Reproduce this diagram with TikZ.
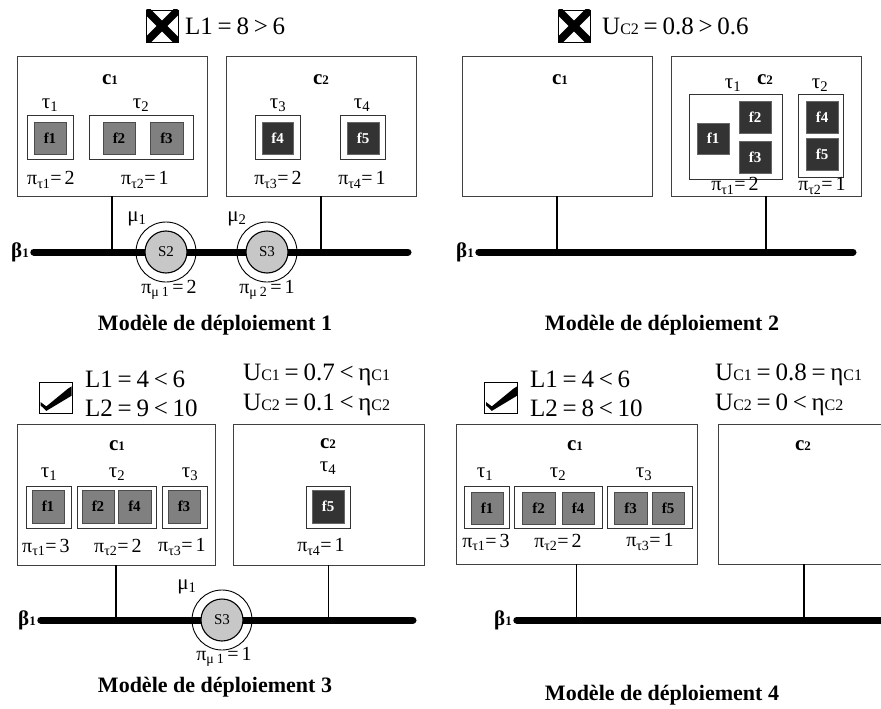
\documentclass[tikz,border=0pt]{standalone}
\usepackage{fontspec}
\setmainfont{Liberation Serif}
\newcommand\bx[7]{\node[#2,anchor=north west,minimum width={(#5)-(#3)},minimum height={(#6)-(#4)}] (#1) at (#3,#4) {#7};}
\newcommand\cn[1]{c{\fontsize{13}{14}\selectfont #1}}
\newcommand\bn{β{\fontsize{13}{14}\selectfont 1}}
\newcommand\tl[1]{τ\textsubscript{#1}}
\newcommand\pt[1]{π\textsubscript{τ#1}}
\newcommand\uc[1]{U{\fontsize{16}{17}\selectfont C#1}}
\newcommand\etc[1]{η{\fontsize{16}{17}\selectfont C#1}}
\newcommand\headfont{\fontsize{25}{27}\selectfont\spaceskip=0.19em plus 0.05em\relax}
\newcommand\pifont{\fontsize{20}{22}\selectfont\spaceskip=0.15em plus 0.05em\relax}
\newcommand\chkmark[1]{\fill ([shift={(2,-11.3)}]#1.south west) -- ([shift={(7.7,-7)}]#1.south west)
  -- ([shift={(29.3,-24.7)}]#1.south west) -- ([shift={(33,-27)}]#1.south west)
  -- ([shift={(33,-17.7)}]#1.south west) -- ([shift={(7.7,-2.5)}]#1.south west)
  -- ([shift={(2,-8)}]#1.south west) -- cycle;}
\tikzset{
  cbox/.style={draw=black!75,line width=1pt,inner sep=0pt,outer sep=0pt,fill=white},
  tbox/.style={draw=black!80,line width=0.9pt,inner sep=0pt,outer sep=0pt,fill=white},
  fl/.style={draw=black!70,line width=0.9pt,fill=black!50,inner sep=0pt,outer sep=0pt,text=black,font=\bfseries\fontsize{15}{16}\selectfont},
  fd/.style={draw=black!60,line width=0.9pt,fill=black!80,inner sep=0pt,outer sep=0pt,text=white,font=\bfseries\fontsize{15}{16}\selectfont},
  head/.style={inner sep=0pt,font=\headfont},
  ttl/.style={inner sep=0pt,font=\bfseries\fontsize{22}{24}\selectfont},
  clab/.style={inner sep=0pt,font=\bfseries\fontsize{21}{22}\selectfont},
  lbl/.style={inner sep=0pt,font=\fontsize{21}{22}\selectfont},
  pil/.style={inner sep=0pt,font=\pifont},
  beta/.style={inner sep=0pt,outer sep=5pt,font=\bfseries\fontsize{21}{22}\selectfont},
  bus/.style={line width=7pt,line cap=round},
  stub/.style={line width=1.7pt},
  ring/.style={circle,draw,line width=0.9pt,minimum size=60pt,inner sep=0pt},
  srv/.style={circle,draw,line width=1.1pt,fill=black!22,minimum size=42pt,inner sep=0pt,font=\fontsize{15}{16}\selectfont},
  xbox/.style={draw,line width=0.8pt,minimum size=32pt,inner sep=0pt,
    path picture={\draw[line width=7.5pt] (path picture bounding box.north west) -- (path picture bounding box.south east);
                  \draw[line width=7.5pt] (path picture bounding box.south west) -- (path picture bounding box.north east);}},
  chk/.style={draw,line width=0.8pt,minimum width=33pt,minimum height=31pt,inner sep=0pt},
}
\begin{document}
\begin{tikzpicture}[x=1pt,y=-1pt]
\clip (0,0) rectangle (881,709);
\fill[white] (0,0) rectangle (881,709);

% ================= Panel 1 =================
\node[xbox] (p1x) at (162,26) {};
\node[head,anchor=west] (p1h) at (185,26) {L1 = 8 > 6};
\bx{p1c1}{cbox}{17}{57}{207}{196}{}
\bx{p1c2}{cbox}{226}{57}{416}{196}{}
\node[clab] (p1c1l) at (110,80) {\cn{1}};
\node[clab] (p1c2l) at (321,80) {\cn{2}};
\bx{p1t1}{tbox}{27}{115}{73}{159}{}
\bx{p1t2}{tbox}{89}{115}{193}{159}{}
\bx{p1t3}{tbox}{255}{115}{300}{159}{}
\bx{p1t4}{tbox}{340}{115}{385}{159}{}
\bx{p1f1}{fl}{34}{122}{66}{154}{f1}
\bx{p1f2}{fl}{103}{122}{135}{154}{f2}
\bx{p1f3}{fl}{150}{122}{183}{154}{f3}
\bx{p1f4}{fd}{262}{122}{293}{154}{f4}
\bx{p1f5}{fd}{347}{122}{379}{154}{f5}
\node[lbl] (p1tl1) at (50,105) {\tl{1}};
\node[lbl] (p1tl2) at (141,105) {\tl{2}};
\node[lbl] (p1tl3) at (278,105) {\tl{3}};
\node[lbl] (p1tl4) at (362,105) {\tl{4}};
\node[pil] (p1p1) at (51,180) {\pt{1}= 2};
\node[pil] (p1p2) at (145,180) {\pt{2}= 1};
\node[pil] (p1p3) at (278,180) {\pt{3}= 2};
\node[pil] (p1p4) at (362,180) {\pt{4}= 1};
\node[beta] (p1b) at (20,252) {\bn};
\coordinate (p1e) at (408,252);
\draw[bus] (p1b.east) -- (p1e);
\draw[stub] (p1c1.south) -- (p1c1.south |- p1e);
\draw[stub] (p1c2.south) -- (p1c2.south |- p1e);
\node[ring] (p1r1) at (166,252) {};
\node[srv] (p1s1) at (p1r1) {S2};
\node[ring] (p1r2) at (267,252) {};
\node[srv] (p1s2) at (p1r2) {S3};
\node[lbl] (p1m1) at (137,219) {μ\textsubscript{1}};
\node[lbl] (p1m2) at (237,219) {μ\textsubscript{2}};
\node[pil] (p1pm1) at (169,290) {π\textsubscript{μ 1} = 2};
\node[pil] (p1pm2) at (267,290) {π\textsubscript{μ 2} = 1};
\node[ttl] (p1title) at (215,325) {Modèle de déploiement 1};

% ================= Panel 2 =================
\node[xbox] (p2x) at (574,26) {};
\node[head,anchor=west] (p2h) at (602,26) {\uc{2} = 0.8 > 0.6};
\bx{p2c1}{cbox}{462}{57}{652}{196}{}
\bx{p2c2}{cbox}{671}{57}{861}{196}{}
\node[clab] (p2c1l) at (560,80) {\cn{1}};
\node[clab] (p2c2l) at (765,80) {\cn{2}};
\node[lbl] (p2tl1) at (733,85) {\tl{1}};
\node[lbl] (p2tl2) at (820,85) {\tl{2}};
\bx{p2t1}{tbox}{689}{94}{782}{179}{}
\bx{p2t2}{tbox}{798}{94}{843}{177}{}
\bx{p2f1}{fd}{697}{123}{729}{154}{f1}
\bx{p2f2}{fd}{739}{101}{771}{133}{f2}
\bx{p2f3}{fd}{739}{141}{771}{173}{f3}
\bx{p2f4}{fd}{806}{101}{838}{133}{f4}
\bx{p2f5}{fd}{806}{138}{838}{170}{f5}
\node[pil] (p2p1) at (735,186) {\pt{1}= 2};
\node[pil] (p2p2) at (822,186) {\pt{2}= 1};
\node[beta] (p2b) at (465,252) {\bn};
\coordinate (p2e) at (853,252);
\draw[bus] (p2b.east) -- (p2e);
\draw[stub] (p2c1.south) -- (p2c1.south |- p2e);
\draw[stub] (p2c2.south) -- (p2c2.south |- p2e);
\node[ttl] (p2title) at (662,325) {Modèle de déploiement 2};

% ================= Panel 3 =================
\node[chk] (p3k) at (55.5,397.5) {};
\chkmark{p3k}
\node[head,anchor=west] (p3l1) at (85,379) {L1 = 4 < 6};
\node[head,anchor=west] (p3l2) at (85,408) {L2 = 9 < 10};
\node[head,anchor=west] (p3u1) at (243,375) {\uc{1} = 0.7 < \etc{1}};
\node[head,anchor=west] (p3u2) at (243,405) {\uc{2} = 0.1 < \etc{2}};
\bx{p3c1}{cbox}{17}{424}{215}{565}{}
\bx{p3c2}{cbox}{233}{424}{424}{565}{}
\node[clab] (p3c1l) at (117,446) {\cn{1}};
\node[clab] (p3c2l) at (328,444) {\cn{2}};
\node[lbl] (p3tl1) at (49,474) {\tl{1}};
\node[lbl] (p3tl2) at (117,474) {\tl{2}};
\node[lbl] (p3tl3) at (190,474) {\tl{3}};
\node[lbl] (p3tl4) at (328,468) {\tl{4}};
\bx{p3t1}{tbox}{26}{486}{71}{528}{}
\bx{p3t2}{tbox}{77}{486}{156}{528}{}
\bx{p3t3}{tbox}{162}{486}{207}{528}{}
\bx{p3t4}{tbox}{306}{486}{350}{528}{}
\bx{p3f1}{fl}{32}{490}{64}{523}{f1}
\bx{p3f2}{fl}{82}{490}{114}{523}{f2}
\bx{p3f4}{fl}{118}{490}{151}{523}{f4}
\bx{p3f3}{fl}{168}{490}{200}{523}{f3}
\bx{p3f5}{fd}{312}{490}{344}{523}{f5}
\node[pil] (p3p1) at (46,547) {\pt{1}= 3};
\node[pil] (p3p2) at (118,547) {\pt{2}= 2};
\node[pil] (p3p3) at (182,547) {\pt{3}= 1};
\node[pil] (p3p4) at (321,547) {\pt{4}= 1};
\node[beta] (p3b) at (27,620) {\bn};
\coordinate (p3e) at (413,620);
\draw[bus] (p3b.east) -- (p3e);
\draw[stub] (p3c1.south) -- (p3c1.south |- p3e);
\draw[stub] (p3c2.south) -- (p3c2.south |- p3e);
\node[ring] (p3r1) at (222,620) {};
\node[srv] (p3s1) at (p3r1) {S3};
\node[lbl] (p3m1) at (187,587) {μ\textsubscript{1}};
\node[pil] (p3pm1) at (224,657) {π\textsubscript{μ 1} = 1};
\node[ttl] (p3title) at (215,687) {Modèle de déploiement 3};

% ================= Panel 4 =================
\node[chk] (p4k) at (501,397.5) {};
\chkmark{p4k}
\node[head,anchor=west] (p4l1) at (530,379) {L1 = 4 < 6};
\node[head,anchor=west] (p4l2) at (530,408) {L2 = 8 < 10};
\node[head,anchor=west] (p4u1) at (715,375) {\uc{1} = 0.8 = \etc{1}};
\node[head,anchor=west] (p4u2) at (715,405) {\uc{2} = 0 < \etc{2}};
\bx{p4c1}{cbox}{456}{424}{697}{564}{}
\bx{p4c2}{cbox}{718}{424}{890}{564}{}
\node[clab] (p4c1l) at (575,446) {\cn{1}};
\node[clab] (p4c2l) at (803,446) {\cn{2}};
\node[lbl] (p4tl1) at (485,474) {\tl{1}};
\node[lbl] (p4tl2) at (558,474) {\tl{2}};
\node[lbl] (p4tl3) at (644,474) {\tl{3}};
\bx{p4t1}{tbox}{464}{486}{509}{528}{}
\bx{p4t2}{tbox}{514}{486}{602}{528}{}
\bx{p4t3}{tbox}{607}{486}{692}{528}{}
\bx{p4f1}{fl}{471}{492}{503}{524}{f1}
\bx{p4f2}{fl}{522}{492}{555}{524}{f2}
\bx{p4f4}{fl}{562}{492}{594}{524}{f4}
\bx{p4f3}{fl}{614}{492}{647}{524}{f3}
\bx{p4f5}{fl}{652}{492}{684}{524}{f5}
\node[pil] (p4p1) at (486,542) {\pt{1}= 3};
\node[pil] (p4p2) at (558,542) {\pt{2}= 2};
\node[pil] (p4p3) at (650,542) {\pt{3}= 1};
\node[beta] (p4b) at (503,620) {\bn};
\coordinate (p4e) at (895,620);
\draw[bus] (p4b.east) -- (p4e);
\draw[stub] (p4c1.south) -- (p4c1.south |- p4e);
\draw[stub] (p4c2.south) -- (p4c2.south |- p4e);
\node[ttl] (p4title) at (662,695) {Modèle de déploiement 4};
\end{tikzpicture}
\end{document}
